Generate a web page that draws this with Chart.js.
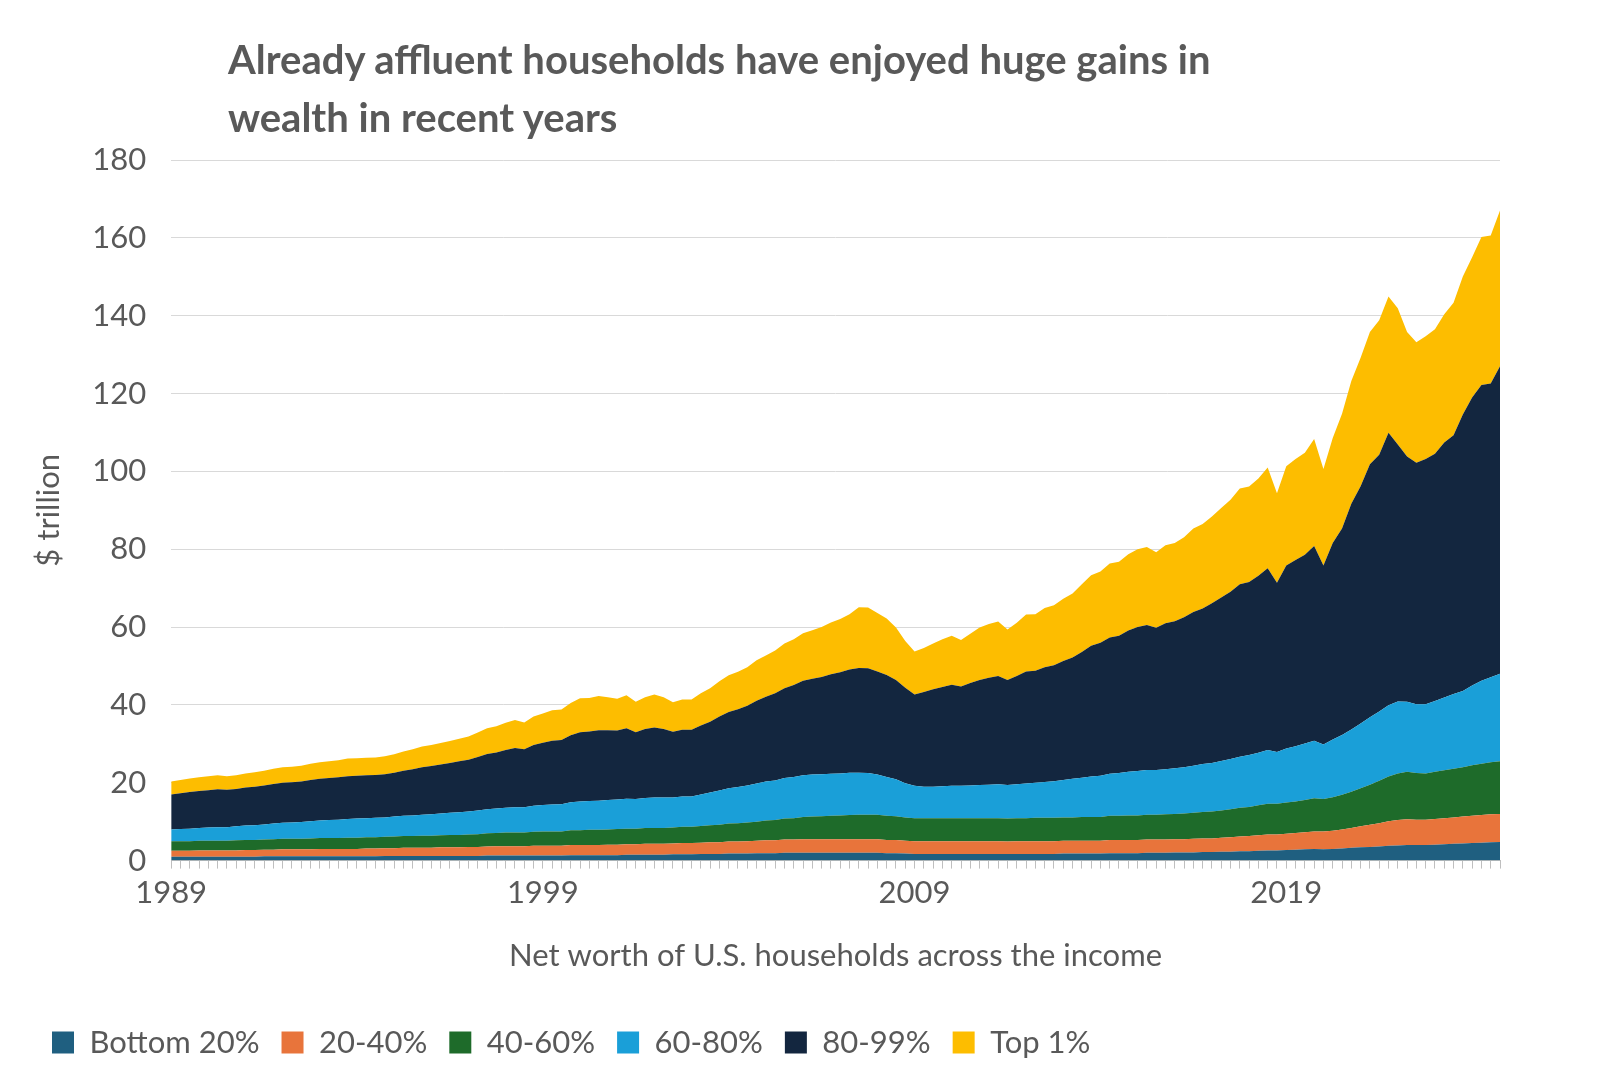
<!DOCTYPE html>
<html lang="en">
<head>
    <meta charset="UTF-8">
    <title>wealth</title>
    <script src="https://cdn.jsdelivr.net/npm/chart.js"></script>
    <style>
        body { margin: 0; background: #fff; }
        #wrap { position: relative; width: 1600px; height: 1088px; }
        #title { position: absolute; left: 228px; top: 30px; font-family: Lato, sans-serif; font-weight: bold;
                 font-size: 40px; line-height: 58px; color: #595959; }
    </style>
</head>
<body>
<div id="wrap">
    <div id="title">Already affluent households have enjoyed huge gains in<br>wealth in recent years</div>
    <canvas id="myChart" width="1600" height="1088"></canvas>
</div>
<script>
// quarterly, 1989 Q1 .. 2024 Q4, $ trillion
const firstYear = 1989
const lastYear = 2024
const seriesNames = ['Bottom 20%', '20-40%', '40-60%', '60-80%', '80-99%', 'Top 1%']
const seriesColors = ['#1f5f80', '#e8743b', '#1e6b2a', '#1a9fd8', '#13263f', '#fdbd00']

const bottom20 = [
 1.0,1.0,1.0,1.0, 1.0,1.0,1.0,1.0, 1.0,1.0,1.1,1.1, 1.1,1.1,1.1,1.1, 1.1,1.1,1.1,1.1,
 1.1,1.1,1.1,1.2, 1.2,1.2,1.2,1.2, 1.2,1.2,1.2,1.2, 1.2,1.2,1.3,1.3, 1.3,1.3,1.3,1.3,
 1.3,1.3,1.3,1.4, 1.4,1.4,1.4,1.4, 1.4,1.5,1.5,1.5, 1.5,1.5,1.6,1.6, 1.6,1.7,1.7,1.7,
 1.8,1.8,1.8,1.9, 1.9,1.9,2.0,2.0, 2.0,2.0,2.0,2.0, 2.0,2.0,2.0,2.0, 2.0,1.9,1.9,1.8,
 1.7,1.7,1.7,1.7, 1.7,1.7,1.7,1.7, 1.7,1.7,1.7,1.7, 1.7,1.7,1.7,1.7, 1.8,1.8,1.8,1.8,
 1.8,1.9,1.9,1.9, 1.9,2.0,2.0,2.0, 2.1,2.1,2.1,2.2, 2.2,2.3,2.3,2.4, 2.4,2.5,2.6,2.6,
 2.7,2.8,2.9,3.0, 2.9,3.0,3.1,3.3, 3.4,3.5,3.6,3.8, 3.9,4.0,4.0,4.0, 4.1,4.2,4.3,4.4,
 4.5,4.6,4.7,4.8]
const pct20to40 = [
 1.5,1.5,1.5,1.6, 1.6,1.6,1.6,1.6, 1.7,1.7,1.7,1.7, 1.8,1.8,1.8,1.8, 1.9,1.9,1.9,1.9,
 1.9,2.0,2.0,2.0, 2.0,2.1,2.1,2.1, 2.1,2.2,2.2,2.2, 2.3,2.3,2.3,2.4, 2.4,2.4,2.4,2.5,
 2.5,2.5,2.5,2.6, 2.6,2.6,2.6,2.7, 2.7,2.7,2.7,2.8, 2.8,2.8,2.8,2.9, 2.9,2.9,3.0,3.0,
 3.1,3.1,3.2,3.2, 3.3,3.3,3.4,3.4, 3.5,3.5,3.5,3.5, 3.5,3.5,3.5,3.5, 3.5,3.4,3.4,3.3,
 3.3,3.3,3.3,3.3, 3.3,3.3,3.3,3.3, 3.3,3.3,3.2,3.3, 3.3,3.3,3.3,3.3, 3.3,3.3,3.3,3.3,
 3.3,3.4,3.4,3.4, 3.4,3.4,3.4,3.4, 3.4,3.4,3.5,3.5, 3.5,3.6,3.7,3.8, 3.9,4.0,4.1,4.1,
 4.2,4.3,4.4,4.5, 4.6,4.7,4.9,5.1, 5.4,5.7,6.0,6.3, 6.5,6.6,6.5,6.5, 6.6,6.7,6.8,6.9,
 7.0,7.1,7.2,7.2]
const pct40to60 = [
 2.5,2.5,2.5,2.5, 2.5,2.5,2.5,2.6, 2.6,2.6,2.6,2.7, 2.7,2.7,2.7,2.8, 2.8,2.8,2.8,2.9,
 2.9,2.9,2.9,2.9, 3.0,3.0,3.0,3.1, 3.1,3.1,3.2,3.2, 3.2,3.3,3.4,3.4, 3.5,3.5,3.5,3.6,
 3.7,3.7,3.7,3.8, 3.8,3.9,3.9,3.9, 4.0,4.0,4.0,4.1, 4.1,4.1,4.1,4.2, 4.2,4.3,4.4,4.5,
 4.6,4.7,4.8,4.9, 5.1,5.2,5.4,5.5, 5.7,5.8,5.9,6.0, 6.1,6.2,6.3,6.3, 6.3,6.2,6.1,6.0,
 5.9,5.9,5.9,5.9, 5.9,5.9,5.9,5.9, 5.9,5.9,5.9,5.9, 5.9,6.0,6.0,6.0, 6.0,6.0,6.1,6.1,
 6.1,6.2,6.2,6.3, 6.3,6.4,6.4,6.5, 6.5,6.6,6.7,6.8, 6.9,7.0,7.2,7.4, 7.5,7.7,7.9,7.9,
 8.0,8.1,8.3,8.5, 8.3,8.6,8.9,9.3, 9.8,10.3,10.9,11.5, 12.0,12.2,12.0,11.9, 12.1,12.3,12.5,12.7,
 13.0,13.2,13.4,13.5]
const pct60to80 = [
 3.0,3.1,3.2,3.3, 3.4,3.5,3.5,3.6, 3.7,3.8,3.9,4.0, 4.1,4.2,4.3,4.4, 4.5,4.6,4.7,4.8,
 4.9,4.9,5.0,5.0, 5.1,5.2,5.3,5.4, 5.5,5.6,5.7,5.8, 5.9,6.1,6.2,6.3, 6.4,6.5,6.5,6.7,
 6.8,6.9,7.0,7.2, 7.4,7.4,7.5,7.6, 7.6,7.7,7.6,7.7, 7.8,7.8,7.7,7.8, 7.8,8.1,8.4,8.8,
 9.1,9.3,9.5,9.8, 10.0,10.2,10.4,10.6, 10.7,10.8,10.8,10.8, 10.8,10.9,10.8,10.7, 10.3,10.0,9.5,8.8,
 8.3,8.1,8.1,8.2, 8.3,8.3,8.4,8.5, 8.6,8.7,8.6,8.7, 8.9,9.0,9.2,9.4, 9.6,9.9,10.1,10.4,
 10.6,10.8,11.0,11.2, 11.4,11.5,11.5,11.6, 11.7,11.9,12.1,12.3, 12.5,12.7,12.9,13.1, 13.3,13.5,13.8,13.3,
 13.9,14.2,14.5,14.8, 14.0,14.8,15.4,16.0, 16.6,17.3,17.8,18.3, 18.5,18.0,17.7,17.8, 18.2,18.7,19.2,19.6,
 20.5,21.3,21.8,22.5]
const pct80to99 = [
 9.0,9.2,9.4,9.5, 9.6,9.7,9.6,9.6, 9.8,9.9,10.0,10.2, 10.3,10.3,10.4,10.6, 10.7,10.8,10.9,11.0,
 11.0,11.0,11.0,11.1, 11.3,11.6,11.9,12.2, 12.4,12.6,12.8,13.1, 13.3,13.7,14.2,14.4, 14.8,15.2,14.9,15.6,
 16.0,16.4,16.5,17.2, 17.8,17.9,18.1,17.9, 17.7,18.1,17.2,17.7, 18.0,17.6,16.9,17.1, 17.1,17.7,18.2,19.0,
 19.6,20.0,20.5,21.3, 21.8,22.4,23.1,23.6, 24.3,24.6,25.0,25.6, 26.0,26.5,26.9,26.9, 26.5,26.2,25.5,24.5,
 23.5,24.3,25.0,25.5, 26.0,25.5,26.3,27.0, 27.5,27.8,27.0,27.8, 28.8,28.8,29.5,29.8, 30.6,31.2,32.3,33.6,
 34.2,35.0,35.3,36.3, 37.0,37.2,36.5,37.5, 37.8,38.5,39.5,40.0, 41.0,42.0,43.0,44.3, 44.5,45.5,46.7,43.5,
 47.0,47.8,48.5,50.0, 46.0,50.5,53.0,58.0, 61.0,65.0,66.0,70.0, 66.0,63.0,62.0,63.0, 63.5,65.5,66.5,71.0,
 74.0,76.0,75.5,79.0]
const top1 = [
 3.3,3.4,3.5,3.5, 3.6,3.6,3.5,3.5, 3.6,3.7,3.8,3.9, 4.0,4.0,4.1,4.2, 4.3,4.3,4.4,4.5,
 4.5,4.5,4.5,4.6, 4.7,4.9,5.1,5.3, 5.4,5.5,5.6,5.8, 6.0,6.3,6.6,6.7, 7.0,7.2,6.9,7.3,
 7.5,7.8,7.8,8.3, 8.7,8.6,8.8,8.5, 8.2,8.5,7.8,8.2, 8.5,8.2,7.6,7.8, 7.8,8.3,8.6,9.1,
 9.4,9.6,9.9,10.4, 10.6,11.0,11.5,11.8, 12.2,12.5,12.8,13.3, 13.7,14.2,15.6,15.6, 15.0,14.5,13.5,12.0,
 11.0,11.3,11.8,12.3, 12.6,12.0,12.7,13.5, 13.8,14.0,13.0,13.7, 14.6,14.5,15.2,15.4, 16.0,16.4,17.4,18.1,
 18.3,19.0,19.0,19.6, 20.0,20.1,19.4,20.0, 20.1,20.6,21.4,21.7, 22.3,23.0,23.6,24.6, 24.5,25.0,25.9,23.0,
 25.5,26.0,26.2,27.5, 24.8,27.0,29.5,31.5, 33.0,34.0,34.5,35.0, 35.0,32.0,31.0,31.5, 32.0,33.0,34.0,35.5,
 36.0,38.0,38.0,40.0]

const labels = []
for (let y = firstYear; y <= lastYear; y++) {
    for (let q = 1; q <= 4; q++) labels.push(y + ' Q' + q)
}

const allSeries = [bottom20, pct20to40, pct40to60, pct60to80, pct80to99, top1]
const datasets = allSeries.map((vals, i) => ({
    label: seriesNames[i],
    data: vals,
    backgroundColor: seriesColors[i],
    borderColor: seriesColors[i],
    borderWidth: 0,
    fill: i === 0 ? 'origin' : '-1',
    pointRadius: 0,
    tension: 0
}))

const gray = '#595959'
const font = 'Lato'

new Chart(document.getElementById('myChart'), {
    type: 'line',
    data: { labels: labels, datasets: datasets },
    options: {
        responsive: false,
        animation: false,
        layout: { padding: { top: 160, right: 100, left: 30, bottom: 20 } },
        plugins: {
            tooltip: { enabled: false },
            legend: {
                position: 'bottom',
                align: 'start',
                labels: { color: gray, font: { family: font, size: 31 }, boxWidth: 22, boxHeight: 22, padding: 22 }
            }
        },
        scales: {
            x: {
                stacked: true,
                offset: false,
                grid: { drawOnChartArea: false, drawTicks: true, tickLength: 8, color: '#bfbfbf' },
                border: { color: '#bfbfbf' },
                ticks: {
                    autoSkip: false,
                    maxRotation: 0,
                    color: gray,
                    font: { family: font, size: 31 },
                    padding: 6,
                    callback: function(value, index) {
                        return index % 40 === 0 ? labels[index].slice(0, 4) : ''
                    }
                },
                title: {
                    display: true,
                    text: 'Net worth of U.S. households across the income',
                    color: gray,
                    font: { family: font, size: 31 },
                    padding: { top: 20, bottom: 30 }
                }
            },
            y: {
                stacked: true,
                min: 0,
                max: 180,
                border: { display: false },
                grid: { color: '#d9d9d9', drawTicks: false },
                ticks: { stepSize: 20, color: gray, font: { family: font, size: 31 }, padding: 25 },
                title: { display: true, text: '$ trillion', color: gray, font: { family: font, size: 31 }, padding: 0 }
            }
        }
    }
})
</script>
</body>
</html>
